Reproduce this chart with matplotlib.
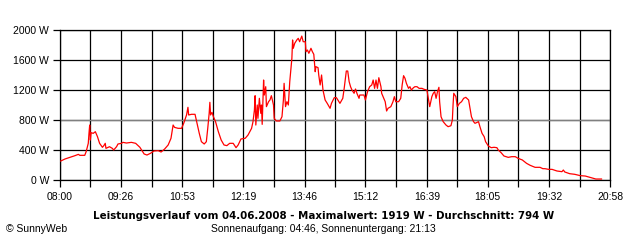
import matplotlib
matplotlib.use("Agg")
import matplotlib.pyplot as plt

# Minuten seit Mitternacht und Leistung in W
minutes = [481, 487, 494, 501, 506, 508, 515, 517, 520, 521, 522, 523, 524, 527, 530, 533,
           536, 540, 542, 544, 545, 550, 554, 556, 560, 562, 567, 569, 574, 581, 587, 593,
           599, 603, 608, 613, 619, 623, 628, 633, 637, 640, 642, 647, 652, 655, 659, 661,
           662, 666, 671, 673, 675, 677, 680, 684, 687, 689, 691, 692, 693, 695, 697, 700,
           704, 708, 712, 716, 720, 725, 729, 732, 736, 742, 746, 751, 753, 755, 756, 757,
           759, 760, 762, 764, 765, 766, 768, 769, 771, 772, 775, 777, 779, 782, 783, 786,
           791, 794, 796, 797, 799, 801, 803, 805, 808, 809, 810, 812, 815, 817, 819, 822,
           824, 827, 828, 830, 832, 835, 837, 839, 841, 842, 845, 846, 848, 850, 852, 855,
           858, 862, 864, 868, 871, 876, 880, 882, 885, 887, 889, 891, 893, 896, 898, 900,
           903, 904, 907, 910, 912, 915, 918, 921, 923, 925, 927, 929, 931, 934, 935, 937,
           940, 942, 944, 948, 951, 953, 955, 959, 962, 964, 966, 968, 970, 973, 975, 977,
           980, 982, 985, 988, 992, 995, 999, 1001, 1003, 1006, 1008, 1010, 1012, 1014, 1016, 1017,
           1019, 1022, 1026, 1029, 1033, 1035, 1036, 1037, 1040, 1042, 1045, 1048, 1051, 1054, 1058, 1060,
           1062, 1065, 1067, 1069, 1072, 1074, 1077, 1080, 1082, 1086, 1090, 1094, 1098, 1100, 1104, 1108,
           1114, 1119, 1124, 1128, 1134, 1140, 1145, 1152, 1159, 1163, 1166, 1171, 1176, 1183, 1190, 1192,
           1194, 1201, 1208, 1216, 1223, 1231, 1238, 1246]
power = [253, 280, 302, 324, 342, 329, 329, 378, 489, 622, 733, 533, 631, 622, 644, 578,
         489, 436, 458, 489, 422, 444, 422, 400, 444, 480, 489, 502, 493, 502, 489, 436,
         347, 333, 356, 387, 391, 373, 413, 467, 556, 733, 702, 689, 689, 756, 867, 969,
         867, 876, 876, 790, 700, 622, 511, 480, 511, 689, 889, 1036, 867, 902, 844, 778,
         644, 533, 467, 458, 489, 489, 431, 467, 547, 556, 600, 689, 778, 933, 1124, 733,
         1000, 822, 1089, 889, 1000, 742, 1333, 1133, 1244, 978, 1044, 1067, 1124, 1000, 822, 787,
         787, 844, 1067, 1289, 978, 1044, 1000, 1311, 1622, 1867, 1756, 1822, 1867, 1889, 1844, 1919,
         1844, 1844, 1711, 1733, 1689, 1756, 1711, 1676, 1444, 1511, 1498, 1400, 1267, 1400, 1200, 1067,
         1022, 956, 1022, 1098, 1098, 1022, 1089, 1222, 1453, 1453, 1311, 1244, 1200, 1156, 1213, 1156,
         1089, 1133, 1133, 1133, 1067, 1178, 1244, 1267, 1333, 1222, 1333, 1222, 1364, 1244, 1156, 1111,
         1044, 920, 956, 978, 1044, 1111, 1044, 1044, 1089, 1267, 1391, 1356, 1289, 1222, 1244, 1200,
         1231, 1244, 1244, 1222, 1222, 1209, 1200, 1089, 978, 1111, 1156, 1178, 1089, 1178, 1236, 1044,
         844, 778, 733, 711, 724, 800, 1000, 1156, 1111, 978, 1022, 1044, 1089, 1102, 1067, 956,
         844, 778, 756, 764, 778, 711, 622, 578, 511, 453, 431, 436, 431, 400, 364, 320,
         302, 311, 311, 289, 267, 222, 196, 169, 169, 151, 151, 142, 142, 120, 111, 133,
         107, 84, 76, 58, 53, 31, 13, 13]

time_labels = ["08:00", "09:26", "10:53", "12:19", "13:46", "15:12", "16:39", "18:05", "19:32", "20:58"]
y_ticks = [0, 400, 800, 1200, 1600, 2000]
average = 794
maximum = 1919

plt.rcParams['font.family'] = ['Liberation Sans', 'DejaVu Sans']

fig = plt.figure(figsize=(6.4, 2.4), dpi=100)
ax = fig.add_axes([60 / 640, 60 / 240, 550 / 640, 150 / 240])

tpos = [int(t[:2]) * 60 + int(t[3:]) for t in time_labels]
minor = [(a + b) / 2 for a, b in zip(tpos[:-1], tpos[1:])]

ax.set_xlim(tpos[0], tpos[-1])
ax.set_ylim(0, 2000)
ax.set_xticks(tpos)
ax.set_xticklabels(time_labels)
ax.set_xticks(minor, minor=True)
ax.set_yticks(y_ticks)
ax.set_yticklabels([f"{v} W" for v in y_ticks])

for v in tpos + minor:
    ax.axvline(v, color='black', lw=0.9, zorder=1)
for v in y_ticks:
    ax.axhline(v, color='black', lw=0.9, zorder=1)
ax.axhline(average, color='#808080', lw=0.9, zorder=2)

ax.plot(minutes, power, color='red', lw=0.9, zorder=3)

ax.tick_params(axis='both', which='both', direction='out', length=5, width=0.9,
               color='black', labelsize=7.5, pad=3)
ax.tick_params(axis='x', which='major', pad=4)
for s in ax.spines.values():
    s.set_linewidth(0.9)

fig.text(0.505, 1 - 216 / 240, f"Leistungsverlauf vom 04.06.2008 - Maximalwert: {maximum} W - Durchschnitt: {average} W",
         ha='center', va='center', fontsize=7.4, fontweight='bold', family='DejaVu Sans')
fig.text(0.505, 1 - 229 / 240, "Sonnenaufgang: 04:46, Sonnenuntergang: 21:13",
         ha='center', va='center', fontsize=7.5)
fig.text(6 / 640, 1 - 229 / 240, "\u00a9 SunnyWeb", ha='left', va='center', fontsize=7.5)

fig.savefig("out.png", dpi=100)
